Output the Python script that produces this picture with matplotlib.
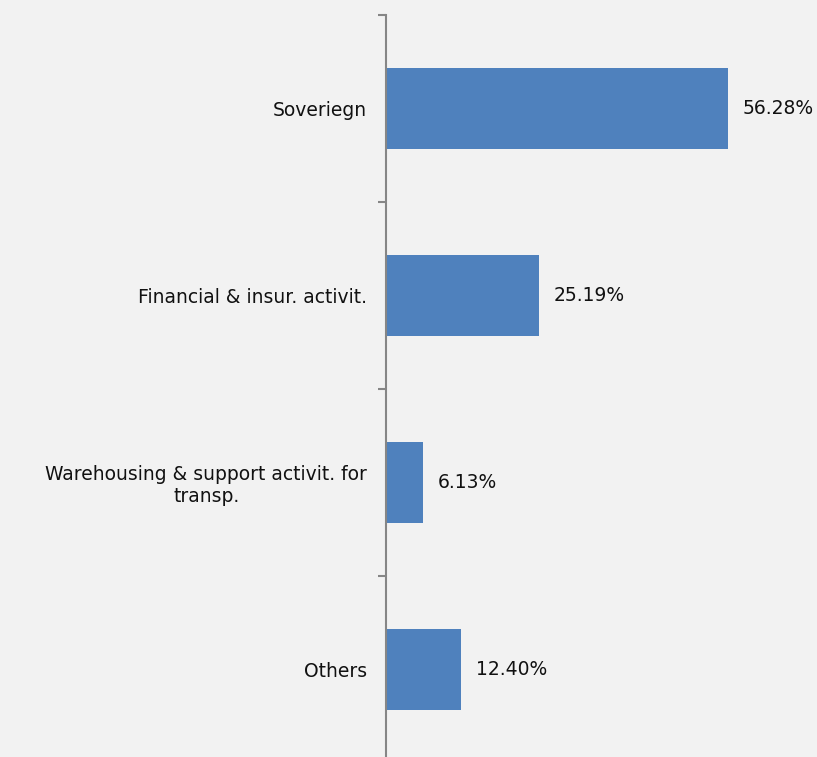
import matplotlib.pyplot as plt
import numpy as np

categories = ["Soveriegn", "Financial & insur. activit.",
              "Warehousing & support activit. for\ntransp.", "Others"]
shares = [56.28, 25.19, 6.13, 12.40]

bg = "#f2f2f2"
fig = plt.figure(figsize=(8.17, 7.57), dpi=100, facecolor=bg)
# plot area: axis line at x=386, category bands of 187 px starting 15 px from the top
ax = fig.add_axes([386 / 817, -6 / 757, 431 / 817, 748 / 757], facecolor=bg)

pos = np.arange(len(categories))
ax.barh(pos, shares, height=0.43, color="#4f81bd")
ax.set_ylim(len(categories) - 0.5, -0.5)
ax.set_xlim(0, 431 / 6.077)

for p, v in zip(pos, shares):
    ax.text(v + 2.4, p, f"{v:.2f}%", va="center", ha="left", fontsize=13.5, color="#111111")

ax.set_yticks(pos)
ax.set_yticklabels(categories, fontsize=13.5, color="#111111", ha="right", multialignment="center")
ax.tick_params(axis="y", which="major", length=0, pad=13.5)
ax.set_yticks(np.arange(len(categories) + 1) - 0.5, minor=True)
ax.tick_params(axis="y", which="minor", length=6, width=1.5, color="#868686", direction="out")
ax.set_xticks([])
for s in ["top", "right", "bottom"]:
    ax.spines[s].set_visible(False)
ax.spines["left"].set_color("#868686")
ax.spines["left"].set_linewidth(1.5)

plt.savefig("out.png", dpi=100, facecolor=bg)
